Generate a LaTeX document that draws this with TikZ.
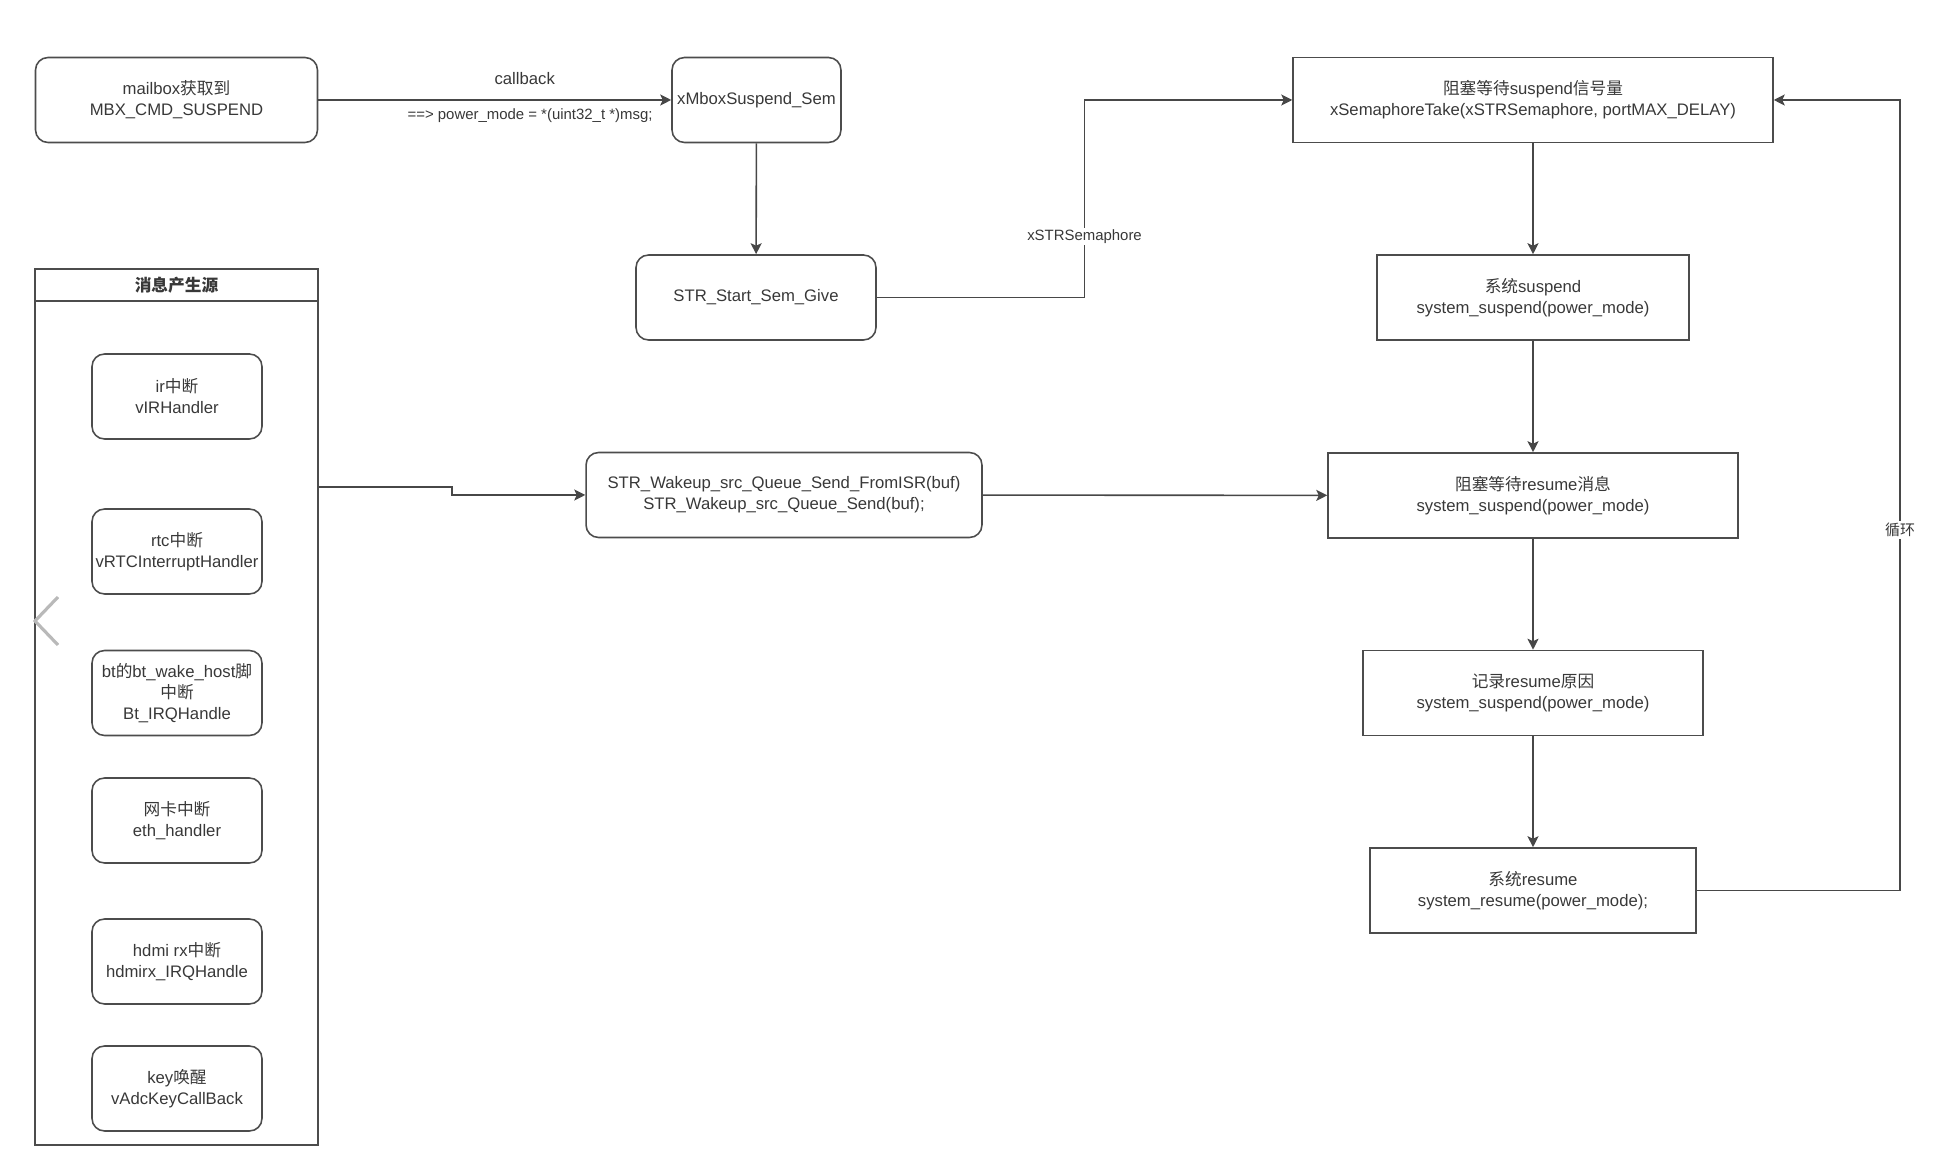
\documentclass[tikz,border=0pt]{standalone}
\usepackage{fontspec}
\setmainfont{Liberation Sans}
\newfontfamily\cjk{Noto Sans CJK SC}
\newcommand{\zhtxt}[1]{{\cjk #1}}
\usetikzlibrary{calc,arrows.meta}

\begin{document}
\begin{tikzpicture}[x=0.02cm,y=-0.02cm,line width=0.9pt,
    every node/.style={text=black!78,font=\fontsize{9.5}{12}\selectfont},
    rbox/.style={draw=black!70,rounded corners=0.25cm,align=center,inner sep=1pt,minimum height=1.7cm},
    sbox/.style={draw=black!70,align=center,inner sep=1pt,minimum height=1.7cm},
    flow/.style={draw=black!72,-{Stealth[length=2.2mm,width=2.2mm,inset=0.5mm]}},
    link/.style={draw=black!70},
    elabel/.style={font=\fontsize{8.5}{10}\selectfont,fill=white,inner sep=1pt}]
  \useasboundingbox (0,0) rectangle (1938,1168);

  \node[rbox,minimum width=5.64cm] (mbox) at (176.5,100) {mailbox\zhtxt{获取到}\\MBX\_CMD\_SUSPEND};
  \node[rbox,minimum width=3.38cm] (xmbox) at (756.5,100) {xMboxSuspend\_Sem};
  \node[rbox,minimum width=4.8cm] (semgive) at (756,297.5) {STR\_Start\_Sem\_Give};
  \node[rbox,minimum width=7.92cm] (wakeq) at (784,495) {STR\_Wakeup\_src\_Queue\_Send\_FromISR(buf)\\STR\_Wakeup\_src\_Queue\_Send(buf);};

  \node[sbox,minimum width=9.6cm] (semtake) at (1533,100) {\zhtxt{阻塞等待}suspend\zhtxt{信号量}\\xSemaphoreTake(xSTRSemaphore, portMAX\_DELAY)};
  \node[sbox,minimum width=6.24cm] (syssusp) at (1533,297.5) {\zhtxt{系统}suspend\\system\_suspend(power\_mode)};
  \node[sbox,minimum width=8.2cm] (waitres) at (1533,495.5) {\zhtxt{阻塞等待}resume\zhtxt{消息}\\system\_suspend(power\_mode)};
  \node[sbox,minimum width=6.8cm] (reason) at (1533,693) {\zhtxt{记录}resume\zhtxt{原因}\\system\_suspend(power\_mode)};
  \node[sbox,minimum width=6.52cm] (sysres) at (1533,890.5) {\zhtxt{系统}resume\\system\_resume(power\_mode);};

  % message sources
  \node[draw=black!70,minimum width=5.66cm,minimum height=17.52cm] (src) at (176.5,707) {};
  \node[font=\fontsize{9.5}{12}\selectfont\bfseries] (srctitle) at (176.5,285.5) {\zhtxt{消息产生源}};
  \draw[link] ([yshift=-0.66cm]src.north west) -- ([yshift=-0.66cm]src.north east);
  \node[rbox,minimum width=3.4cm] (irq) at (177,396.5) {ir\zhtxt{中断}\\vIRHandler};
  \node[rbox,minimum width=3.4cm] (rtc) at (177,551.5) {rtc\zhtxt{中断}\\vRTCInterruptHandler};
  \node[rbox,minimum width=3.4cm] (bt) at (177,693) {bt\zhtxt{的}bt\_wake\_host\zhtxt{脚}\\\zhtxt{中断}\\Bt\_IRQHandle};
  \node[rbox,minimum width=3.4cm] (eth) at (177,820.5) {\zhtxt{网卡中断}\\eth\_handler};
  \node[rbox,minimum width=3.4cm] (hdmi) at (177,961.5) {hdmi rx\zhtxt{中断}\\hdmirx\_IRQHandle};
  \node[rbox,minimum width=3.4cm] (key) at (177,1088.5) {key\zhtxt{唤醒}\\vAdcKeyCallBack};

  \coordinate (semmid) at ($(semgive.east)!0.5!(semtake.west)$);
  \coordinate (loopx) at (1900,0);

  \draw[flow] (mbox) -- node[pos=0.585,yshift=0.42cm]{callback} node[elabel,pos=0.6,yshift=-0.32cm]{==> power\_mode = *(uint32\_t *)msg;} (xmbox);
  \draw[flow] (xmbox) -- (semgive);
  \draw[flow] (semgive.east) -- (semgive.east -| semmid) -- node[elabel,pos=0.31]{xSTRSemaphore} (semtake.west -| semmid) -- (semtake.west);
  \draw[flow] (semtake) -- (syssusp);
  \draw[flow] (syssusp) -- (waitres);
  \draw[flow] (waitres) -- (reason);
  \draw[flow] (reason) -- (sysres);
  \draw[flow] (sysres.east) -- (sysres.east -| loopx) -- node[elabel,pos=0.456]{\zhtxt{循环}} (semtake.east -| loopx) -- (semtake.east);
  \draw[flow] ([yshift=-4.38cm]src.north east) -- ++(133,0) |- (wakeq.west);
  \draw[flow] (wakeq) -- (waitres);

  \draw[gray!55,line width=1.8pt] (58,597) -- (35,621) -- (58,645);
\end{tikzpicture}
\end{document}
